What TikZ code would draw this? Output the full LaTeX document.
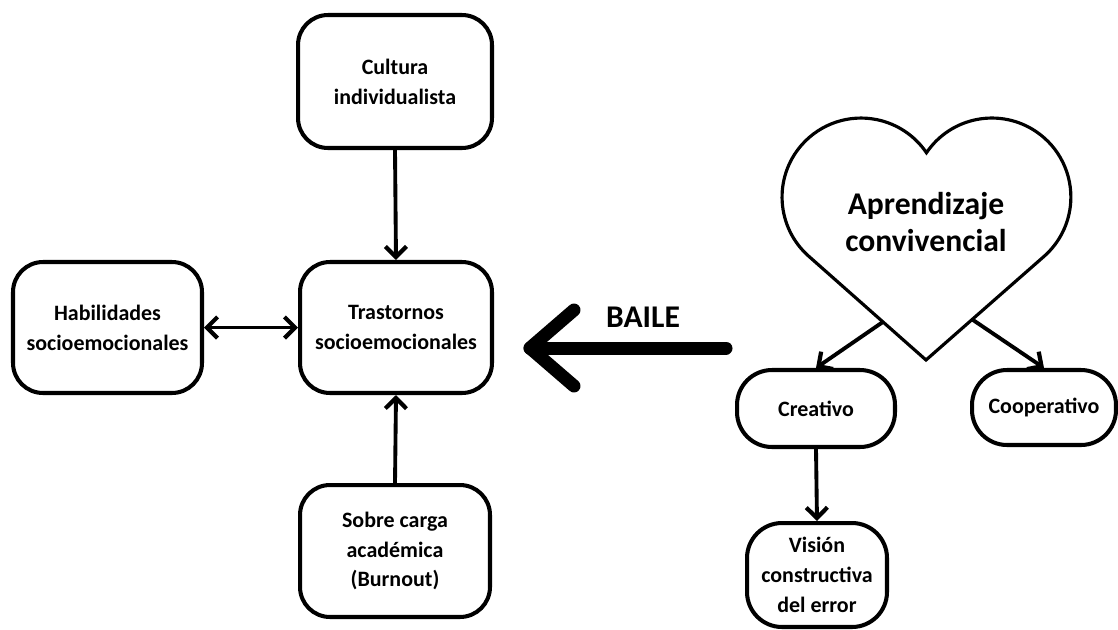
\documentclass[tikz,border=0pt]{standalone}
\usepackage{fontspec}
\setmainfont{Carlito}
\usetikzlibrary{arrows.meta,calc}

\tikzset{
  chev/.tip={Straight Barb[length=6pt,width=12pt,line width=2.4pt]},
  box/.style={draw, line width=2.3pt, rounded corners=0.6cm, align=center,
    inner sep=0pt, font=\fontsize{12.5}{17}\selectfont\bfseries},
  pill/.style={box, rounded corners=0.7cm},
  link/.style={line width=2.2pt, -{chev}},
  twolink/.style={line width=2.2pt, {chev}-{chev}},
  bigarrow/.style={line width=7.4pt, line cap=round, line join=round},
  heartline/.style={line width=1.8pt, line join=miter},
  bigtext/.style={font=\fontsize{18}{21.5}\selectfont\bfseries, align=center, inner sep=0pt}
}

\begin{document}
\begin{tikzpicture}[x=0.02cm, y=0.02cm]
\useasboundingbox (0,0) rectangle (1118,-629);

% left cluster
\node[box, minimum width=3.88cm, minimum height=2.66cm] (cultura) at (395,-81.5) {Cultura\\individualista};
\node[box, minimum width=3.84cm, minimum height=2.62cm] (trast) at (396,-327.5) {Trastornos\\socioemocionales};
\node[box, minimum width=3.78cm, minimum height=2.62cm] (habil) at (107.5,-327.5) {Habilidades\\socioemocionales};
\node[box, minimum width=3.80cm, minimum height=2.64cm] (sobre) at (395,-551) {Sobre carga\\académica\\(Burnout)};

\draw[link] (cultura.south) -- (trast.north);
\draw[link] (sobre.north) -- (trast.south);
\draw[twolink] (habil.east) -- (trast.west);

% heart
\coordinate (tip) at (926,-360);
\coordinate (lt) at (808.7,-256.2);
\coordinate (rt) at (1043.3,-256.2);
\draw[heartline] (tip) -- (lt) arc[start angle=228.5, end angle=34.1, radius=79]
  arc[start angle=145.9, end angle=-48.5, radius=79] -- cycle;
\node[bigtext] (heart) at (926,-222) {Aprendizaje\\convivencial};
\coordinate (hl) at ($(lt)!0.633!(tip)$);
\coordinate (hr) at ($(rt)!0.608!(tip)$);

% right cluster
\node[pill, minimum width=3.16cm, minimum height=1.54cm] (creativo) at (816,-408.5) {Creativo};
\node[pill, minimum width=2.88cm, minimum height=1.50cm] (cooper) at (1044,-407.5) {Cooperativo};
\node[pill, minimum width=2.80cm, minimum height=2.08cm] (vision) at (817,-575) {Visión\\constructiva\\del error};

\draw[link] (hl) -- (creativo.north);
\draw[link] (hr) -- (cooper.north);
\draw[link] (creativo.south) -- (vision.north);

% big arrow
\node[bigtext] (baile) at (643,-317) {BAILE};
\coordinate (bigtail) at (726,-348);
\coordinate (bigtip) at (530,-348);
\draw[bigarrow] (bigtail) -- (bigtip);
\draw[bigarrow] ($(bigtip)+(44,38)$) -- (bigtip) -- ($(bigtip)+(44,-38)$);
\end{tikzpicture}
\end{document}
